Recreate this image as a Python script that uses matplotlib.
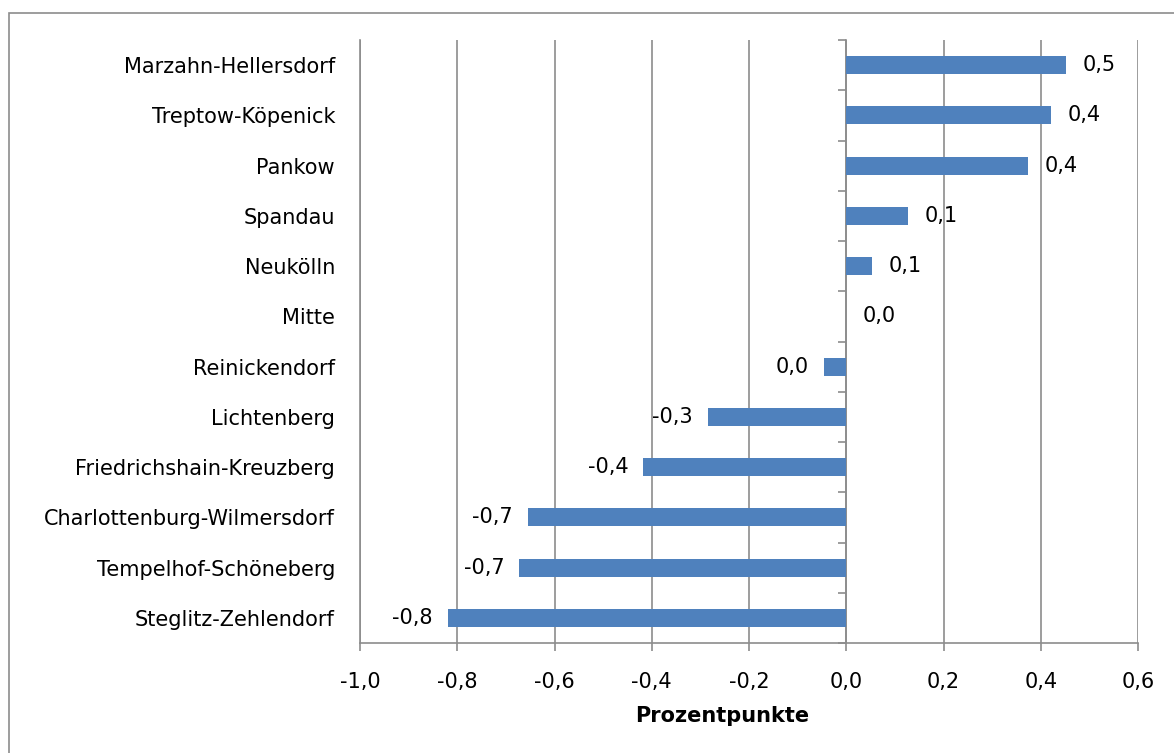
import numpy as np
import matplotlib
matplotlib.use("Agg")
import matplotlib.pyplot as plt
from matplotlib.patches import Rectangle

# Veraenderung in Prozentpunkten nach Bezirk
bezirke = ["Marzahn-Hellersdorf", "Treptow-Köpenick", "Pankow", "Spandau",
           "Neukölln", "Mitte", "Reinickendorf", "Lichtenberg",
           "Friedrichshain-Kreuzberg", "Charlottenburg-Wilmersdorf",
           "Tempelhof-Schöneberg", "Steglitz-Zehlendorf"]
werte = [0.452, 0.421, 0.374, 0.127, 0.053, 0.0, -0.045, -0.284,
         -0.417, -0.655, -0.672, -0.820]
x_ticks = [-1.0, -0.8, -0.6, -0.4, -0.2, 0.0, 0.2, 0.4, 0.6]

GRAU = "#8c8c8c"
BLAU = "#4f81bd"
FS = 15
plt.rcParams["font.family"] = "DejaVu Sans"


def fmt(v):
    r = round(v, 1)
    if r == 0:
        return "0,0"
    return f"{r:.1f}".replace(".", ",")


fig = plt.figure(figsize=(11.74, 7.53), dpi=100)
ax = fig.add_axes([360 / 1174, 110 / 753, 778 / 1174, 603 / 753])

y = np.arange(len(bezirke))[::-1]
ax.barh(y, werte, height=0.36, color=BLAU, zorder=3)

for yi, v in zip(y, werte):
    if v >= 0:
        ax.annotate(fmt(v), (v, yi), xytext=(12, 0), textcoords="offset points",
                    ha="left", va="center", fontsize=FS)
    else:
        ax.annotate(fmt(v), (v, yi), xytext=(-11, 0), textcoords="offset points",
                    ha="right", va="center", fontsize=FS)

ax.set_xlim(-1.0, 0.6)
ax.set_ylim(-0.5, len(bezirke) - 0.5)
ax.set_xticks(x_ticks)
ax.set_xticklabels([f"{t:.1f}".replace(".", ",") for t in x_ticks], fontsize=FS)
ax.set_yticks(y)
ax.set_yticklabels(bezirke, fontsize=FS)
ax.tick_params(axis="y", length=0, pad=18)
ax.tick_params(axis="x", length=6, width=1.2, color=GRAU, pad=15)
ax.grid(axis="x", color=GRAU, linewidth=1.2, zorder=0)
ax.set_axisbelow(True)

for s in ["top", "right"]:
    ax.spines[s].set_visible(False)
for s in ["left", "bottom"]:
    ax.spines[s].set_color(GRAU)
    ax.spines[s].set_linewidth(1.2)

# Kategorienachse bei x = 0 mit Teilstrichen zwischen den Balken
sec = ax.secondary_yaxis(1.0 / 1.6)
sec.set_yticks(np.arange(-0.5, len(bezirke), 1.0))
sec.set_yticklabels([])
sec.tick_params(axis="y", direction="out", length=6, width=1.2, color=GRAU,
                left=True, right=False, labelright=False, labelleft=False)
for s in sec.spines.values():
    s.set_color(GRAU)
    s.set_linewidth(1.2)

ax.set_xlabel("Prozentpunkte", fontsize=FS, fontweight="bold")
ax.xaxis.set_label_coords(0.465, -0.105)

fig.patches.append(Rectangle((9 / 1174, -0.1), 1.2, 0.9827 + 0.1,
                             transform=fig.transFigure, fill=False,
                             edgecolor=GRAU, linewidth=1.2))

fig.savefig("out.png", dpi=100)
